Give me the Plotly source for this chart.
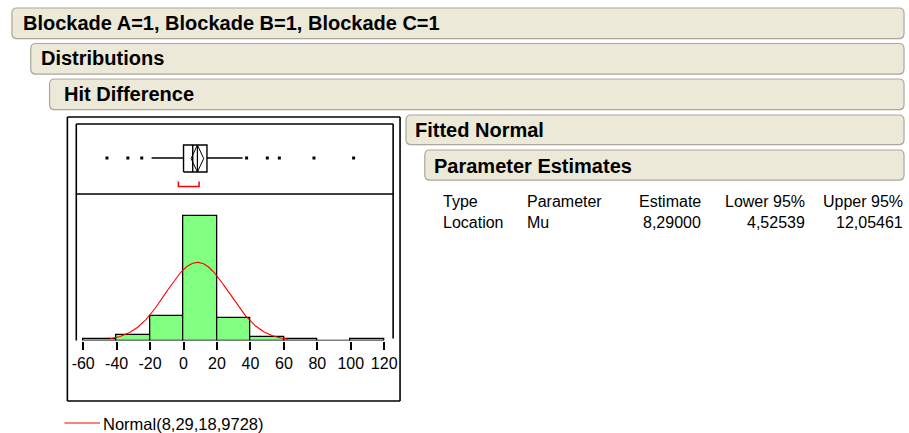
import numpy as np
import plotly.graph_objects as go

W, H = 909, 433

# ---------------- data ----------------
bin_edges = [-60, -40, -20, 0, 20, 40, 60, 80, 100, 120]
bin_counts = [1, 3, 13, 67, 12, 2, 1, 0, 1]
tick_values = [-60, -40, -20, 0, 20, 40, 60, 80, 100, 120]
tick_labels = ["-60", "-40", "-20", "0", "20", "40", "60", "80", "100", "120"]

normal_mean = 8.29
normal_sd = 18.9728
n_obs = 100
curve_range = [-44.0, 62.5]

box_q1 = 0.0
box_median = 5.5
box_q3 = 14.0
whisker_low = -19.1
whisker_high = 35.3
outliers = [-45.8, -33.3, -25.0, 37.7, 50.1, 57.3, 78.0, 101.7]
mean_ci = [4.52539, 12.05461]
shortest_half = [-3.1, 9.3]

header_titles = ["Blockade A=1, Blockade B=1, Blockade C=1", "Distributions",
                 "Hit Difference", "Fitted Normal", "Parameter Estimates"]
table_columns = ["Type", "Parameter", "Estimate", "Lower 95%", "Upper 95%"]
table_row = ["Location", "Mu", "8,29000", "4,52539", "12,05461"]
legend_label = "Normal(8,29,18,9728)"

# ---------------- layout helpers (pixels -> paper) ----------------
def fx(x):
    return x / W

def fy(y):
    return 1 - y / H

FONT = "Liberation Sans"
X_RANGE = [-64.14, 125.33]
PX_PER_COUNT = 1.858
HIST_TOP, HIST_BOT = 194.0, 340.5
BOX_TOP = 124.0

fig = go.Figure()

# histogram
centers = [(bin_edges[i] + bin_edges[i + 1]) / 2 for i in range(len(bin_counts))]
widths = [bin_edges[i + 1] - bin_edges[i] for i in range(len(bin_counts))]
fig.add_trace(go.Bar(x=centers, y=bin_counts, width=widths,
                     marker=dict(color="#80FF80", line=dict(color="black", width=1.3)),
                     xaxis="x", yaxis="y", hoverinfo="skip"))

# fitted normal curve
binw = bin_edges[1] - bin_edges[0]
xc = np.linspace(curve_range[0], curve_range[1], 300)
yc = n_obs * binw * np.exp(-0.5 * ((xc - normal_mean) / normal_sd) ** 2) / (normal_sd * np.sqrt(2 * np.pi))
fig.add_trace(go.Scatter(x=xc, y=yc, mode="lines", line=dict(color="red", width=1.1),
                         xaxis="x", yaxis="y", hoverinfo="skip"))

# box plot (y2 in pixels above the separator)
ymid, ylo, yhi = 36, 22, 49
blk = dict(color="black", width=1.4)
fig.add_trace(go.Scatter(x=[whisker_low, box_q1, None, box_q3, whisker_high],
                         y=[ymid, ymid, None, ymid, ymid], mode="lines", line=blk,
                         xaxis="x2", yaxis="y2", hoverinfo="skip"))
fig.add_trace(go.Scatter(x=[box_q1, box_q3, box_q3, box_q1, box_q1],
                         y=[ylo, ylo, yhi, yhi, ylo], mode="lines", line=blk,
                         xaxis="x2", yaxis="y2", hoverinfo="skip"))
fig.add_trace(go.Scatter(x=[box_median, box_median], y=[ylo, yhi], mode="lines", line=blk,
                         xaxis="x2", yaxis="y2", hoverinfo="skip"))
fig.add_trace(go.Scatter(x=[mean_ci[0], normal_mean, mean_ci[1], normal_mean, mean_ci[0]],
                         y=[(ylo + yhi) / 2, yhi, (ylo + yhi) / 2, ylo, (ylo + yhi) / 2],
                         mode="lines", line=dict(color="black", width=1),
                         xaxis="x2", yaxis="y2", hoverinfo="skip"))
fig.add_trace(go.Scatter(x=[normal_mean, normal_mean], y=[ylo, yhi], mode="lines",
                         line=dict(color="black", width=1.2),
                         xaxis="x2", yaxis="y2", hoverinfo="skip"))
fig.add_trace(go.Scatter(x=outliers, y=[ymid] * len(outliers), mode="markers",
                         marker=dict(symbol="square", size=3, color="black", line=dict(width=0)),
                         xaxis="x2", yaxis="y2", hoverinfo="skip"))
fig.add_trace(go.Scatter(x=[shortest_half[0], shortest_half[0], shortest_half[1], shortest_half[1]],
                         y=[12.5, 7.5, 7.5, 12.5], mode="lines",
                         line=dict(color="red", width=1.5),
                         xaxis="x2", yaxis="y2", hoverinfo="skip"))

shapes = []

def rrect(x0, y0, x1, y1, r=5):
    rx, ry = r / W, r / H
    X0, X1, Y0, Y1 = fx(x0), fx(x1), fy(y0), fy(y1)
    return (f"M {X0+rx},{Y0} L {X1-rx},{Y0} Q {X1},{Y0} {X1},{Y0-ry} "
            f"L {X1},{Y1+ry} Q {X1},{Y1} {X1-rx},{Y1} L {X0+rx},{Y1} "
            f"Q {X0},{Y1} {X0},{Y1+ry} L {X0},{Y0-ry} Q {X0},{Y0} {X0+rx},{Y0} Z")

bars_px = [(7, 8, 908, 38.5), (26, 43.5, 908, 74), (45, 79, 908, 109.5),
           (405, 115, 908, 144.5), (424, 150, 908, 180)]
text_px = [(18, 23), (36, 58), (60, 93.5), (414, 130), (433, 166)]
for (x0, y0, x1, y1) in bars_px:
    shapes.append(dict(type="path", path=rrect(x0, y0 + 1, x1, y1 + 1), xref="paper", yref="paper",
                       fillcolor="#D4D0C4", line=dict(width=0), layer="below"))
    shapes.append(dict(type="path", path=rrect(x0, y0, x1, y1), xref="paper", yref="paper",
                       fillcolor="#ECE9D8", line=dict(color="#ACA899", width=1.2), layer="below"))

def seg(x0, y0, x1, y1, color="black", width=1.6):
    shapes.append(dict(type="line", xref="paper", yref="paper",
                       x0=fx(x0), y0=fy(y0), x1=fx(x1), y1=fy(y1),
                       line=dict(color=color, width=width)))

# outer frame
seg(63, 117, 399, 117); seg(63, 401, 399, 401); seg(63, 117, 63, 401); seg(399, 117, 399, 401)
# inner frame
seg(72, BOX_TOP, 392, BOX_TOP); seg(72, BOX_TOP, 72, HIST_BOT); seg(392, BOX_TOP, 392, HIST_BOT - 2)
seg(72, HIST_TOP, 392, HIST_TOP)
# legend line
seg(60, 423, 96, 423, color="red", width=1.2)

annotations = []

def label(t, x, y, anchor, size, bold=False):
    f = dict(family=FONT, size=size, color="black")
    if bold:
        f["weight"] = "bold"
    annotations.append(dict(text=t, x=fx(x), y=fy(y), xref="paper", yref="paper",
                            xanchor=anchor, yanchor="middle", showarrow=False,
                            borderpad=0, borderwidth=0, font=f))

for (t, (x, y)) in zip(header_titles, text_px):
    label(t, x, y, "left", 20, bold=True)

col_x = [442, 527, 703, 808, 907]
col_anchor = ["left", "left", "right", "right", "right"]
for row, yy in ((table_columns, 201), (table_row, 223)):
    for t, x, a in zip(row, col_x, col_anchor):
        label(t, x, yy, a, 16)

label(legend_label, 99, 424, "left", 16.5)

fig.update_layout(
    width=W, height=H, margin=dict(l=0, r=0, t=0, b=0),
    paper_bgcolor="white", plot_bgcolor="white", showlegend=False,
    bargap=0,
    xaxis=dict(domain=[fx(72), fx(392)], range=X_RANGE, tickvals=tick_values, ticktext=tick_labels,
               ticks="outside", ticklen=8, tickwidth=1.5, tickcolor="black",
               showgrid=False, zeroline=False, showline=False, anchor="y",
               tickfont=dict(family=FONT, size=16, color="black")),
    yaxis=dict(domain=[fy(HIST_BOT), fy(HIST_TOP)],
               range=[0, (HIST_BOT - HIST_TOP) / PX_PER_COUNT], visible=False, anchor="x"),
    xaxis2=dict(domain=[fx(72), fx(392)], range=X_RANGE, visible=False, anchor="y2"),
    yaxis2=dict(domain=[fy(HIST_TOP), fy(BOX_TOP)], range=[0, HIST_TOP - BOX_TOP],
                visible=False, anchor="x2"),
    shapes=shapes, annotations=annotations,
)

fig.write_html("out.html", config={"displayModeBar": False},
               post_script="document.body.style.margin='0px';document.body.style.padding='0px';"
                           "document.body.style.overflow='hidden';")
